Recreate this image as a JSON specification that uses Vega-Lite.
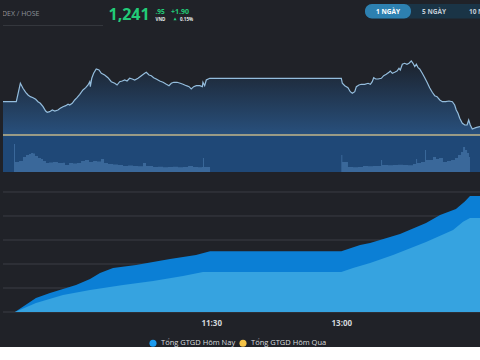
{
  "$schema": "https://vega.github.io/schema/vega-lite/v6.json",
  "background": "#202228",
  "padding": 0,
  "spacing": 0,
  "config": {"view": {"stroke": null}, "font": "Open Sans"},
  "datasets": {
    "price": [
      {"t":6,"p":1248.38},{"t":15.2,"p":1248.38},{"t":18.0,"p":1252.98},{"t":19.8,"p":1251.73},{"t":21.7,"p":1250.73},{"t":23.3,"p":1250.05},{"t":24.9,"p":1249.63},{"t":26.8,"p":1249.38},{"t":28.6,"p":1248.98},{"t":30.2,"p":1248.38},{"t":31.8,"p":1247.98},{"t":33.7,"p":1247.13},{"t":35.5,"p":1246.05},{"t":36.6,"p":1245.73},{"t":38.3,"p":1245.88},{"t":40.1,"p":1246.30},{"t":41.8,"p":1246.05},{"t":44.0,"p":1246.30},{"t":45.6,"p":1246.73},{"t":47.5,"p":1247.13},{"t":49.4,"p":1247.38},{"t":51.0,"p":1247.73},{"t":52.1,"p":1247.55},{"t":53.9,"p":1247.98},{"t":55.6,"p":1248.80},{"t":57.2,"p":1249.38},{"t":59.1,"p":1250.23},{"t":61.3,"p":1251.30},{"t":63.2,"p":1251.88},{"t":64.8,"p":1252.55},{"t":66.0,"p":1253.38},{"t":66.4,"p":1252.13},{"t":67.4,"p":1254.23},{"t":68.7,"p":1255.48},{"t":70.5,"p":1256.55},{"t":72.4,"p":1256.30},{"t":74.0,"p":1255.48},{"t":76.3,"p":1255.05},{"t":78.6,"p":1254.38},{"t":80.9,"p":1253.38},{"t":83.3,"p":1252.98},{"t":84.9,"p":1252.55},{"t":86.7,"p":1253.38},{"t":88.5,"p":1253.55},{"t":90.2,"p":1253.80},{"t":91.8,"p":1253.55},{"t":93.6,"p":1254.23},{"t":95.4,"p":1254.05},{"t":97.1,"p":1253.80},{"t":99.4,"p":1254.23},{"t":101.7,"p":1254.88},{"t":104.0,"p":1255.48},{"t":105.1,"p":1255.73},{"t":107.0,"p":1255.05},{"t":108.6,"p":1254.88},{"t":110.2,"p":1254.38},{"t":112.0,"p":1254.05},{"t":114.4,"p":1253.55},{"t":116.7,"p":1253.23},{"t":119.0,"p":1252.73},{"t":120.8,"p":1252.38},{"t":122.4,"p":1252.98},{"t":124.1,"p":1253.23},{"t":126.4,"p":1253.23},{"t":128.6,"p":1252.98},{"t":130.5,"p":1252.73},{"t":132.8,"p":1252.38},{"t":134.7,"p":1252.13},{"t":136.2,"p":1251.55},{"t":137.9,"p":1252.13},{"t":139.7,"p":1252.38},{"t":142.1,"p":1252.38},{"t":143.9,"p":1252.13},{"t":144.3,"p":1253.23},{"t":145.5,"p":1252.38},{"t":146.6,"p":1253.80},{"t":149.0,"p":1254.23},{"t":240,"p":1254.23},{"t":240.7,"p":1252.98},{"t":242.4,"p":1252.38},{"t":244.6,"p":1251.88},{"t":246.2,"p":1250.88},{"t":247.6,"p":1250.48},{"t":249.3,"p":1250.88},{"t":250.4,"p":1252.13},{"t":252.2,"p":1252.55},{"t":253.8,"p":1252.73},{"t":256.2,"p":1252.73},{"t":258.5,"p":1252.98},{"t":260.1,"p":1252.73},{"t":261.4,"p":1253.38},{"t":262.4,"p":1254.38},{"t":263.8,"p":1254.05},{"t":265.4,"p":1254.05},{"t":267.7,"p":1254.23},{"t":269.3,"p":1254.88},{"t":271.1,"p":1255.23},{"t":273.0,"p":1255.73},{"t":273.9,"p":1256.05},{"t":275.3,"p":1255.48},{"t":276.9,"p":1255.73},{"t":278.5,"p":1256.05},{"t":279.9,"p":1256.73},{"t":280.8,"p":1256.30},{"t":282.2,"p":1257.73},{"t":283.8,"p":1257.98},{"t":285.4,"p":1257.73},{"t":286.8,"p":1257.98},{"t":288.4,"p":1258.55},{"t":289.6,"p":1257.98},{"t":290.8,"p":1257.13},{"t":291.9,"p":1257.73},{"t":293.1,"p":1256.88},{"t":294.2,"p":1256.55},{"t":296.0,"p":1255.48},{"t":297.7,"p":1254.38},{"t":299.3,"p":1253.23},{"t":301.1,"p":1251.88},{"t":302.9,"p":1250.73},{"t":304.6,"p":1249.88},{"t":306.2,"p":1249.63},{"t":308.1,"p":1248.80},{"t":309.9,"p":1248.38},{"t":312.2,"p":1248.38},{"t":314.5,"p":1248.55},{"t":316.8,"p":1248.38},{"t":318.4,"p":1247.55},{"t":319.5,"p":1246.30},{"t":320.7,"p":1245.48},{"t":321.9,"p":1244.23},{"t":323.7,"p":1242.98},{"t":325.4,"p":1242.55},{"t":327.0,"p":1242.55},{"t":328.1,"p":1243.80},{"t":329.2,"p":1242.55},{"t":330.6,"p":1241.55},{"t":333.0,"p":1241.88},{"t":335.7,"p":1242.13},{"t":338.0,"p":1241.95}
    ],
    "volume": [
      {"t":13.6,"v":7.0},{"t":14.3,"v":2.5},{"t":17.1,"v":2.75},{"t":19.8,"v":3.75},{"t":21.9,"v":4.25},{"t":24.0,"v":4.5},{"t":25.4,"v":4.75},{"t":26.8,"v":4.6},{"t":28.1,"v":4.0},{"t":30.2,"v":3.5},{"t":32.3,"v":3.25},{"t":33.7,"v":2.75},{"t":35.7,"v":2.25},{"t":37.8,"v":2.4},{"t":40.6,"v":2.5},{"t":44.0,"v":2.25},{"t":47.5,"v":2.3},{"t":48.9,"v":1.75},{"t":51.7,"v":2.25},{"t":54.4,"v":2.1},{"t":57.2,"v":2.25},{"t":60.0,"v":2.75},{"t":62.7,"v":3.0},{"t":65.5,"v":2.5},{"t":68.3,"v":2.75},{"t":71.0,"v":2.6},{"t":73.8,"v":3.25},{"t":75.9,"v":2.25},{"t":78.6,"v":2.0},{"t":82.1,"v":1.9},{"t":85.5,"v":1.75},{"t":89.0,"v":1.5},{"t":92.5,"v":1.6},{"t":95.9,"v":1.5},{"t":99.4,"v":1.45},{"t":102.8,"v":2.25},{"t":104.9,"v":1.5},{"t":109.8,"v":1.25},{"t":113.2,"v":1.3},{"t":116.7,"v":1.2},{"t":120.1,"v":1.25},{"t":123.6,"v":1.3},{"t":127.0,"v":1.2},{"t":130.5,"v":1.25},{"t":134.0,"v":1.5},{"t":137.4,"v":1.25},{"t":140.9,"v":1.2},{"t":143.6,"v":1.25},{"t":144.3,"v":3.5},{"t":145.0,"v":1.25},{"t":149.2,"v":0},
      {"t":240,"v":4.25},{"t":240.7,"v":2.5},{"t":244.6,"v":1.25},{"t":248.1,"v":1.2},{"t":251.6,"v":1.25},{"t":255.0,"v":1.5},{"t":258.5,"v":1.45},{"t":261.9,"v":1.5},{"t":265.4,"v":1.5},{"t":267.5,"v":3.0},{"t":268.2,"v":1.75},{"t":272.3,"v":1.7},{"t":275.8,"v":1.75},{"t":279.2,"v":1.8},{"t":282.7,"v":1.75},{"t":286.1,"v":1.7},{"t":289.6,"v":2.0},{"t":291.7,"v":3.25},{"t":292.4,"v":2.25},{"t":295.1,"v":2.5},{"t":297.2,"v":2.5},{"t":297.9,"v":5.5},{"t":298.6,"v":3.0},{"t":300.7,"v":3.0},{"t":303.4,"v":3.75},{"t":305.5,"v":3.25},{"t":307.6,"v":3.5},{"t":310.3,"v":2.5},{"t":313.1,"v":2.75},{"t":315.9,"v":3.0},{"t":318.6,"v":3.5},{"t":320.7,"v":4.25},{"t":322.8,"v":5.0},{"t":324.2,"v":6.25},{"t":325.6,"v":5.5},{"t":327.0,"v":4.75},{"t":328.3,"v":3.75},{"t":329.0,"v":0}
    ],
    "today": [
      {"t":6,"v":0},{"t":14.3,"v":0},{"t":28.8,"v":2333},{"t":38.5,"v":3167},{"t":47.5,"v":3833},{"t":56.5,"v":4500},{"t":66.2,"v":5500},{"t":73.1,"v":6500},{"t":82.1,"v":7333},{"t":98.0,"v":7833},{"t":121.5,"v":8833},{"t":139.5,"v":9500},{"t":149.2,"v":10117},{"t":240,"v":10117},{"t":253,"v":11167},{"t":259.9,"v":11500},{"t":280.6,"v":13000},{"t":298.6,"v":14833},{"t":308.3,"v":16167},{"t":319.3,"v":17167},{"t":325.4,"v":18433},{"t":329.0,"v":19333},{"t":338,"v":19333}
    ],
    "yesterday": [
      {"t":6,"v":0},{"t":14.3,"v":0},{"t":28.8,"v":1500},{"t":47.5,"v":2833},{"t":66.2,"v":3667},{"t":89.0,"v":4500},{"t":109.8,"v":5167},{"t":130.5,"v":6000},{"t":144.3,"v":6667},{"t":149.2,"v":6667},{"t":240,"v":6667},{"t":248.1,"v":7333},{"t":259.9,"v":8167},{"t":275.8,"v":9500},{"t":298.6,"v":11667},{"t":317.3,"v":13667},{"t":324.2,"v":15050},{"t":329.0,"v":15667},{"t":338,"v":15667}
    ],
    "grid": [{"g":0},{"g":4000},{"g":8000},{"g":12000},{"g":16000},{"g":20000}],
    "legend": [{"s":"Tổng GTGD Hôm Nay"},{"s":"Tổng GTGD Hôm Qua"}]
  },
  "vconcat": [
    {
      "width": 480,
      "height": 30,
      "data": {"values": [{}]},
      "layer": [
        {"mark": {"type": "rule", "color": "#34373d", "strokeWidth": 1},
         "encoding": {"x": {"datum": 0, "type": "quantitative", "scale": {"domain": [0, 480], "nice": false, "zero": false}, "axis": null}, "x2": {"datum": 100}, "y": {"datum": 25.5, "type": "quantitative", "scale": {"domain": [0, 30], "reverse": true, "nice": false}, "axis": null}}},
        {"mark": {"type": "text", "text": "VNINDEX / HOSE", "align": "right", "baseline": "alphabetic", "fontSize": 7, "color": "#8e939b", "clip": true},
         "encoding": {"x": {"datum": 36.5, "type": "quantitative", "axis": null}, "y": {"datum": 16, "type": "quantitative", "axis": null}}},
        {"mark": {"type": "text", "text": "1,241", "align": "left", "baseline": "alphabetic", "fontSize": 16, "fontWeight": "bold", "color": "#22cc78"},
         "encoding": {"x": {"datum": 105.5, "type": "quantitative", "axis": null}, "y": {"datum": 19.5, "type": "quantitative", "axis": null}}},
        {"mark": {"type": "text", "text": ".95", "align": "left", "baseline": "alphabetic", "fontSize": 6.5, "fontWeight": "bold", "color": "#22cc78"},
         "encoding": {"x": {"datum": 152.5, "type": "quantitative", "axis": null}, "y": {"datum": 14, "type": "quantitative", "axis": null}}},
        {"mark": {"type": "text", "text": "VND", "align": "left", "baseline": "alphabetic", "fontSize": 4.5, "fontWeight": "bold", "color": "#e6e8ea"},
         "encoding": {"x": {"datum": 152.5, "type": "quantitative", "axis": null}, "y": {"datum": 20.5, "type": "quantitative", "axis": null}}},
        {"mark": {"type": "text", "text": "+1.90", "align": "left", "baseline": "alphabetic", "fontSize": 7, "fontWeight": "bold", "color": "#22cc78"},
         "encoding": {"x": {"datum": 168, "type": "quantitative", "axis": null}, "y": {"datum": 14, "type": "quantitative", "axis": null}}},
        {"mark": {"type": "point", "shape": "triangle-up", "filled": true, "size": 10, "color": "#22cc78", "opacity": 1},
         "encoding": {"x": {"datum": 172, "type": "quantitative", "axis": null}, "y": {"datum": 18.8, "type": "quantitative", "axis": null}}},
        {"mark": {"type": "text", "text": "0.15%", "align": "left", "baseline": "alphabetic", "fontSize": 4.5, "fontWeight": "bold", "color": "#e6e8ea"},
         "encoding": {"x": {"datum": 177, "type": "quantitative", "axis": null}, "y": {"datum": 20.5, "type": "quantitative", "axis": null}}},
        {"mark": {"type": "rect", "color": "#1a3446", "cornerRadius": 7, "clip": true},
         "encoding": {"x": {"datum": 362, "type": "quantitative", "axis": null}, "x2": {"datum": 520}, "y": {"datum": 4, "type": "quantitative", "axis": null}, "y2": {"datum": 18.5}}},
        {"mark": {"type": "rect", "color": "#2d80b0", "cornerRadius": 7},
         "encoding": {"x": {"datum": 362, "type": "quantitative", "axis": null}, "x2": {"datum": 408}, "y": {"datum": 4, "type": "quantitative", "axis": null}, "y2": {"datum": 18.5}}},
        {"mark": {"type": "text", "text": "1 NGÀY", "align": "center", "baseline": "alphabetic", "fontSize": 6.5, "fontWeight": "bold", "color": "#ffffff"},
         "encoding": {"x": {"datum": 385, "type": "quantitative", "axis": null}, "y": {"datum": 14, "type": "quantitative", "axis": null}}},
        {"mark": {"type": "text", "text": "5 NGÀY", "align": "center", "baseline": "alphabetic", "fontSize": 6.5, "fontWeight": "bold", "color": "#c3cdd6"},
         "encoding": {"x": {"datum": 431, "type": "quantitative", "axis": null}, "y": {"datum": 14, "type": "quantitative", "axis": null}}},
        {"mark": {"type": "text", "text": "10 NGÀY", "align": "left", "baseline": "alphabetic", "fontSize": 6.5, "fontWeight": "bold", "color": "#c3cdd6", "clip": true},
         "encoding": {"x": {"datum": 466, "type": "quantitative", "axis": null}, "y": {"datum": 14, "type": "quantitative", "axis": null}}}
      ]
    },
    {
      "width": 480,
      "height": 142,
      "layer": [
        {"data": {"name": "price"},
         "mark": {"type": "area", "color": {"gradient": "linear", "x1": 0, "y1": 0, "x2": 0, "y2": 1, "stops": [{"offset": 0, "color": "#1c222c"}, {"offset": 1, "color": "#28507d"}]}},
         "encoding": {"x": {"field": "t", "type": "quantitative", "scale": {"domain": [6, 338], "nice": false, "zero": false}, "axis": null},
                      "y": {"field": "p", "type": "quantitative", "scale": {"domain": [1230.8, 1266.3], "nice": false, "zero": false}, "axis": null},
                      "y2": {"datum": 1240.05}}},
        {"data": {"values": [{}]},
         "mark": {"type": "rect", "color": "#1f4877"},
         "encoding": {"x": {"datum": 6, "type": "quantitative", "scale": {"domain": [6, 338], "nice": false, "zero": false}, "axis": null}, "x2": {"datum": 338},
                      "y": {"datum": 1240.05, "type": "quantitative", "scale": {"domain": [1230.8, 1266.3], "nice": false, "zero": false}, "axis": null}, "y2": {"datum": 1230.8}}},
        {"data": {"name": "volume"},
         "mark": {"type": "area", "interpolate": "step-after", "color": "#3f6ea0", "opacity": 0.85},
         "encoding": {"x": {"field": "t", "type": "quantitative", "scale": {"domain": [6, 338], "nice": false, "zero": false}, "axis": null},
                      "y": {"field": "v", "type": "quantitative", "scale": {"domain": [0, 35.5], "nice": false}, "axis": null}}},
        {"data": {"name": "price"},
         "mark": {"type": "line", "color": "#94bddd", "strokeWidth": 1.2},
         "encoding": {"x": {"field": "t", "type": "quantitative", "scale": {"domain": [6, 338], "nice": false, "zero": false}, "axis": null},
                      "y": {"field": "p", "type": "quantitative", "scale": {"domain": [1230.8, 1266.3], "nice": false, "zero": false}, "axis": null}}},
        {"data": {"values": [{}]},
         "mark": {"type": "rule", "color": "#c2b68a", "strokeWidth": 1.5},
         "encoding": {"y": {"datum": 1240.05, "type": "quantitative", "scale": {"domain": [1230.8, 1266.3], "nice": false, "zero": false}, "axis": null}}}
      ],
      "resolve": {"scale": {"y": "independent"}}
    },
    {
      "width": 480,
      "height": 140,
      "layer": [
        {"data": {"name": "grid"},
         "mark": {"type": "rule", "color": "#3b3d44", "strokeWidth": 1},
         "encoding": {"y": {"field": "g", "type": "quantitative", "scale": {"domain": [0, 23333.33], "nice": false}, "axis": null}}},
        {"data": {"name": "today"},
         "mark": {"type": "area", "color": "#0b7fd5"},
         "encoding": {"x": {"field": "t", "type": "quantitative", "scale": {"domain": [6, 338], "nice": false, "zero": false},
                            "axis": {"values": [150, 240], "labelExpr": "datum.value == 150 ? '11:30' : '13:00'", "grid": false, "ticks": false, "domain": false, "labelColor": "#d3d6da", "labelFontSize": 8, "labelFontWeight": "bold", "labelPadding": 7, "title": null}},
                      "y": {"field": "v", "type": "quantitative", "axis": null}}},
        {"data": {"name": "yesterday"},
         "mark": {"type": "area", "color": "#36a3e0"},
         "encoding": {"x": {"field": "t", "type": "quantitative"},
                      "y": {"field": "v", "type": "quantitative", "axis": null}}},
        {"data": {"name": "legend"},
         "mark": {"type": "point", "filled": true, "opacity": 0},
         "encoding": {"x": {"datum": 100, "type": "quantitative"},
                      "y": {"datum": 1000, "type": "quantitative", "axis": null},
                      "color": {"field": "s", "type": "nominal",
                                "scale": {"domain": ["Tổng GTGD Hôm Nay", "Tổng GTGD Hôm Qua"], "range": ["#1b9bf0", "#f5c346"]},
                                "legend": {"title": null, "orient": "none", "legendX": 146, "legendY": 339, "direction": "horizontal", "symbolType": "circle", "symbolSize": 50, "symbolOpacity": 1, "symbolStrokeWidth": 0, "labelColor": "#d9dbde", "labelFontSize": 7.5, "labelFont": "Open Sans", "columnPadding": 3}}}}
      ]
    }
  ]
}
